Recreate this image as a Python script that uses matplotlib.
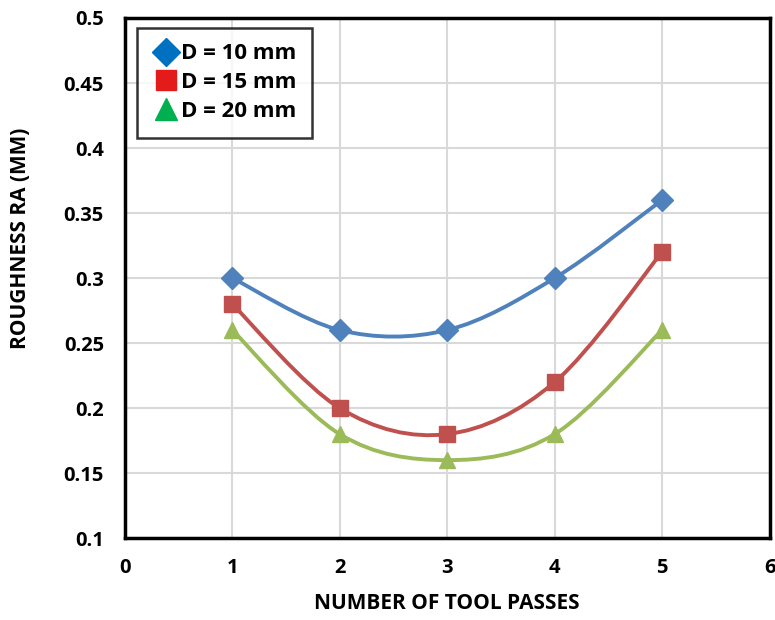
import matplotlib.pyplot as plt
import numpy as np
from matplotlib.lines import Line2D
from matplotlib.path import Path
from matplotlib.patches import PathPatch

# datos
pasadas = [1, 2, 3, 4, 5]
ra_d10 = [0.30, 0.26, 0.26, 0.30, 0.36]
ra_d15 = [0.28, 0.20, 0.18, 0.22, 0.32]
ra_d20 = [0.26, 0.18, 0.16, 0.18, 0.26]
etiquetas = ["D = 10 mm", "D = 15 mm", "D = 20 mm"]

plt.rcParams["font.family"] = ["Open Sans", "DejaVu Sans"]
plt.rcParams["font.weight"] = "bold"


def curva_suave(ax, x, y, color):
    # curva tipo excel: bezier con puntos de control estilo catmull-rom
    x = np.asarray(x, float)
    y = np.asarray(y, float)
    pts = np.column_stack([x, y])
    verts = [pts[0]]
    codes = [Path.MOVETO]
    n = len(pts)
    for i in range(n - 1):
        p0 = pts[i - 1] if i > 0 else pts[i]
        p1 = pts[i]
        p2 = pts[i + 1]
        p3 = pts[i + 2] if i + 2 < n else pts[i + 1]
        c1 = p1 + (p2 - p0) / 6
        c2 = p2 - (p3 - p1) / 6
        verts += [c1, c2, p2]
        codes += [Path.CURVE4] * 3
    patch = PathPatch(Path(verts, codes), facecolor="none", edgecolor=color,
                      lw=2.8, zorder=3, capstyle="round")
    ax.add_patch(patch)


fig = plt.figure(figsize=(7.75, 6.2), dpi=100)
ax = fig.add_axes([0.161, 0.132, 0.832, 0.839])

series = [
    (ra_d10, "#4F81BD", "D", 11),
    (ra_d15, "#C0504D", "s", 11),
    (ra_d20, "#9BBB59", "^", 12),
]
for valores, color, marca, tam in series:
    curva_suave(ax, pasadas, valores, color)
    ax.plot(pasadas, valores, linestyle="none", marker=marca, markersize=tam,
            color=color, zorder=4)

ax.set_xlim(0, 6)
ax.set_ylim(0.1, 0.5)
ax.set_xticks(range(0, 7))
ax.set_yticks(np.arange(0.1, 0.501, 0.05))
ax.set_yticklabels(["0.1", "0.15", "0.2", "0.25", "0.3", "0.35", "0.4", "0.45", "0.5"])
ax.tick_params(length=0, labelsize=14.5)
ax.tick_params(axis="y", pad=15)
ax.tick_params(axis="x", pad=14)
for t in ax.get_xticklabels() + ax.get_yticklabels():
    t.set_fontweight("bold")
ax.grid(True, color="#D9D9D9", lw=1.5)
ax.set_axisbelow(True)
for lado in ax.spines.values():
    lado.set_color("black")
    lado.set_linewidth(2.5)

ax.set_xlabel("NUMBER OF TOOL PASSES", fontsize=15, fontweight="bold", labelpad=11)
ax.set_ylabel("ROUGHNESS RA (MM)", fontsize=15, fontweight="bold")
ax.yaxis.set_label_coords(-0.146, 0.577)

# la leyenda usa otros colores que las lineas
manijas = [
    Line2D([], [], linestyle="none", marker="D", markersize=14, color="#0070C0"),
    Line2D([], [], linestyle="none", marker="s", markersize=14, color="#E31B1B"),
    Line2D([], [], linestyle="none", marker="^", markersize=16, color="#00B050"),
]
leg = ax.legend(manijas, etiquetas, loc="upper left", bbox_to_anchor=(0.019, 0.981),
                borderaxespad=0, prop={"size": 16, "weight": "bold"}, frameon=True,
                fancybox=False, handletextpad=0.1, handlelength=1.2, borderpad=0.7,
                labelspacing=0.35)
leg.get_frame().set_edgecolor("black")
leg.get_frame().set_linewidth(1.8)

fig.savefig("out.png", dpi=100)
